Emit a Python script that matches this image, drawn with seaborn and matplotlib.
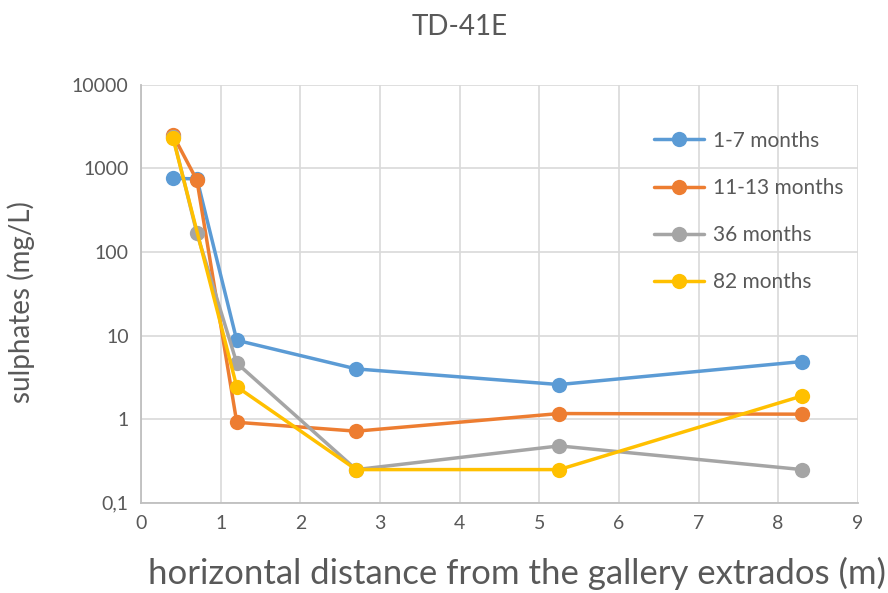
import matplotlib
matplotlib.use("Agg")
import matplotlib.pyplot as plt
import matplotlib.ticker as mticker
import seaborn as sns
import pandas as pd
import numpy as np

series = ["1-7 months", "11-13 months", "36 months", "82 months"]
x_blue = [0.4, 0.7, 1.2, 2.7, 5.25, 8.3]
y_blue = [760, 750, 8.8, 4.0, 2.6, 4.9]
x_orange = [0.4, 0.7, 1.2, 2.7, 5.25, 8.3]
y_orange = [2500, 720, 0.92, 0.72, 1.17, 1.15]
x_gray = [0.4, 0.7, 1.2, 2.7, 5.25, 8.3]
y_gray = [2400, 167, 4.7, 0.25, 0.48, 0.25]
x_yellow = [0.4, 1.2, 2.7, 5.25, 8.3]
y_yellow = [2300, 2.45, 0.25, 0.25, 1.9]
colors = ["#5B9BD5", "#ED7D31", "#A5A5A5", "#FFC000"]
yticks = [0.1, 1, 10, 100, 1000, 10000]
ytick_labels = ["0,1", "1", "10", "100", "1000", "10000"]

frames = []
for name, xs, ys in zip(series, [x_blue, x_orange, x_gray, x_yellow],
                        [y_blue, y_orange, y_gray, y_yellow]):
    frames.append(pd.DataFrame({"x": xs, "y": ys, "series": name}))
df = pd.concat(frames, ignore_index=True)

sns.set_style("white")
plt.rcParams['font.family'] = ['Lato', 'DejaVu Sans']
txt = "#595959"

fig = plt.figure(figsize=(8.88, 5.93), dpi=100)
ax = fig.add_axes([0.159, 0.152, 0.807, 0.705])

sns.lineplot(data=df, x="x", y="y", hue="series", hue_order=series,
             palette=colors, marker="o", markersize=11, markeredgewidth=0,
             linewidth=2.5, sort=False, estimator=None, ax=ax)

ax.set_yscale("log")
ax.set_ylim(0.1, 10000)
ax.set_xlim(0, 9)
ax.set_yticks(yticks)
ax.set_yticklabels(ytick_labels)
ax.yaxis.set_minor_locator(mticker.NullLocator())
ax.set_xticks(range(0, 10))
ax.xaxis.set_minor_locator(mticker.MultipleLocator(0.2))
ax.grid(True, which="major", color="#D9D9D9", linewidth=1.2)
ax.set_axisbelow(True)
for s in ["top", "right"]:
    ax.spines[s].set_visible(False)
for s in ["left", "bottom"]:
    ax.spines[s].set_color("#BFBFBF")
    ax.spines[s].set_linewidth(1.3)
ax.tick_params(axis="y", which="both", length=0, labelsize=14, labelcolor=txt, pad=9)
ax.tick_params(axis="x", which="major", length=5, direction="in", color="#BFBFBF",
               labelsize=14, labelcolor=txt, pad=9)
ax.tick_params(axis="x", which="minor", length=4, direction="in", color="#BFBFBF")

ax.set_xlabel("horizontal distance from the gallery extrados (m)", fontsize=25,
              color=txt)
ax.xaxis.set_label_coords(0.524, -0.13)
ax.set_ylabel("sulphates (mg/L)", fontsize=20, color=txt)
ax.yaxis.set_label_coords(-0.148, 0.48)
fig.text(0.518, 0.955, "TD-41E", ha="center", va="center", fontsize=20, color=txt)

leg = ax.legend(loc="upper left", bbox_to_anchor=(0.69, 0.935), frameon=False,
                fontsize=15, labelspacing=1.3, handlelength=2.4, handletextpad=0.4,
                labelcolor=txt)

fig.savefig("out.png", dpi=100)
